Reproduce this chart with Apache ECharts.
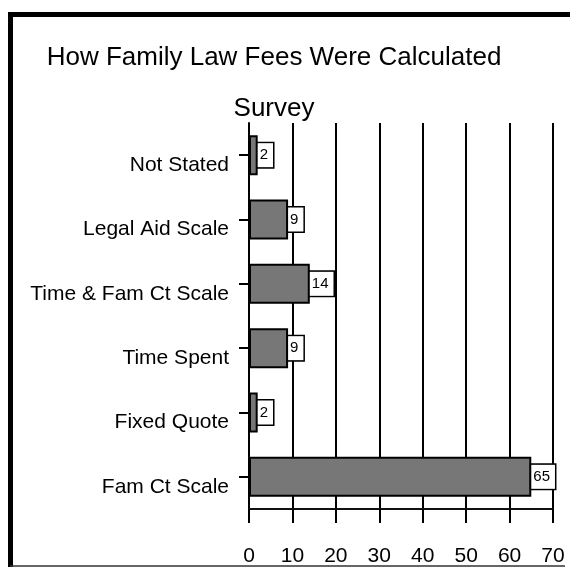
<!DOCTYPE html>
<html>
<head>
<meta charset="utf-8">
<script src="https://cdn.jsdelivr.net/npm/echarts@6/dist/echarts.min.js"></script>
<style>
  html, body { margin: 0; padding: 0; background: #fff; }
  #chart { width: 570px; height: 567px; }
</style>
</head>
<body>
<div id="chart"></div>
<script>
// Survey responses, listed top to bottom
const categories = ['Not Stated', 'Legal Aid Scale', 'Time & Fam Ct Scale', 'Time Spent', 'Fixed Quote', 'Fam Ct Scale'];
const responses = [2, 9, 14, 9, 2, 65];
const xTicks = [0, 10, 20, 30, 40, 50, 60, 70];

const FONT = "'Liberation Sans', Arial, sans-serif";

const chart = echarts.init(document.getElementById('chart'), null, { renderer: 'canvas' });

chart.setOption({
  animation: false,
  backgroundColor: '#fff',
  title: {
    text: 'How Family Law Fees Were Calculated\nSurvey',
    left: 269,
    top: 27,
    textAlign: 'center',
    textStyle: {
      fontFamily: FONT,
      fontSize: 26,
      fontWeight: 'normal',
      color: '#000',
      lineHeight: 51
    }
  },
  grid: { left: 249, right: 17, top: 123, bottom: 58, containLabel: false },
  xAxis: {
    type: 'value',
    min: xTicks[0],
    max: xTicks[xTicks.length - 1],
    interval: 10,
    axisLine: { show: true, lineStyle: { color: '#111', width: 2 } },
    axisTick: { show: true, length: 14, lineStyle: { color: '#000', width: 2 } },
    splitLine: { show: true, lineStyle: { color: '#000', width: 2 } },
    axisLabel: {
      margin: 37,
      fontFamily: FONT,
      fontSize: 21,
      color: '#000',
      formatter: v => xTicks.includes(v) ? String(v) : ''
    }
  },
  yAxis: {
    type: 'category',
    data: categories,
    inverse: true,
    axisLine: { show: true, lineStyle: { color: '#000', width: 2 } },
    axisTick: { show: true, alignWithLabel: true, length: 10, lineStyle: { color: '#000', width: 2 } },
    splitLine: { show: false },
    axisLabel: {
      margin: 20,
      fontFamily: FONT,
      fontSize: 21,
      color: '#000',
      verticalAlign: 'top',
      lineHeight: 20
    }
  },
  series: [{
    type: 'bar',
    data: responses,
    barWidth: 40,
    itemStyle: { color: '#777777', borderColor: '#000', borderWidth: 2 },
    label: {
      show: true,
      position: 'right',
      distance: 0,
      fontFamily: FONT,
      fontSize: 15,
      color: '#000',
      lineHeight: 20,
      backgroundColor: '#fff',
      borderColor: '#000',
      borderWidth: 1.5,
      padding: [4, 5, 0, 2]
    }
  }],
  graphic: [
    { type: 'line', shape: { x1: 8, y1: 14.5, x2: 570, y2: 14.5 }, style: { stroke: '#000', lineWidth: 5 }, silent: true },
    { type: 'line', shape: { x1: 10.5, y1: 12, x2: 10.5, y2: 567 }, style: { stroke: '#000', lineWidth: 5 }, silent: true },
    { type: 'line', shape: { x1: 10, y1: 566, x2: 565, y2: 566 }, style: { stroke: '#333', lineWidth: 1.5 }, silent: true }
  ]
});
</script>
</body>
</html>
